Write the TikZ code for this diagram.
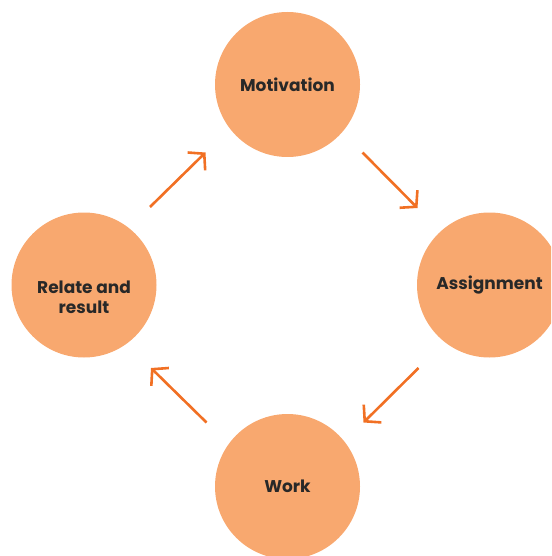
\documentclass[tikz,border=0pt]{standalone}
\usepackage{fontspec}
\setmainfont{Poppins}
\usetikzlibrary{positioning,arrows.meta}
\definecolor{peach}{RGB}{248,168,111}
\definecolor{flame}{RGB}{241,112,36}
\definecolor{ink}{RGB}{40,40,40}

\begin{document}
\begin{tikzpicture}[x=1pt, y=-1pt,
    stage/.style={circle, fill=peach, minimum size=145pt, inner sep=0pt,
      text=ink, font=\fontsize{17}{20}\selectfont\bfseries, align=center},
    caption/.style={text=ink, font=\fontsize{17}{20}\selectfont\bfseries, align=center},
    flow/.style={draw=flame, line width=2.6pt,
      -{Straight Barb[length=11pt, width=25pt, line width=2.6pt]}}]
    \useasboundingbox (0,0) rectangle (551,556);
    \clip (0,0) rectangle (551,556);
    \node[stage] (mot) at (287.5,84.5) {Motivation};
    \node[stage] (asg) at (489.5,285) {\raisebox{-2pt}{Assignment}};
    \node[stage] (wrk) at (287.5,486.5) {Work};
    \node[stage] (rel) at (84,285) {};
    \node[caption] (reltxt) at ([yshift=-12]rel.center) {Relate and\\result};
    \draw[flow] ([shift={(66,-78)}]rel.center) -- ([shift={(-82,68)}]mot.center);
    \draw[flow] ([shift={(75,68)}]mot.center) -- ([shift={(-72,-77)}]asg.center);
    \draw[flow] ([shift={(-71,83)}]asg.center) -- ([shift={(76,-64)}]wrk.center);
    \draw[flow] ([shift={(-81,-64)}]wrk.center) -- ([shift={(67,83)}]rel.center);
  \end{tikzpicture}
\end{document}
